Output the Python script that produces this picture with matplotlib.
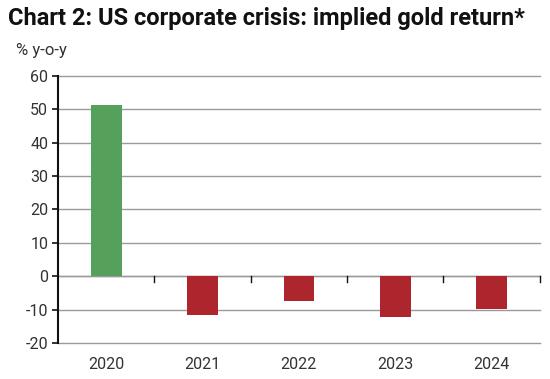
import matplotlib
matplotlib.use("Agg")
import matplotlib.pyplot as plt
import numpy as np

categories = ["2020", "2021", "2022", "2023", "2024"]
values = [51.2, -11.5, -7.5, -12.3, -9.8]
colors = ["#55a05a", "#ad262d", "#ad262d", "#ad262d", "#ad262d"]
yticks = [-20, -10, 0, 10, 20, 30, 40, 50, 60]

plt.rcParams['font.family'] = ['Roboto', 'DejaVu Sans']

fig = plt.figure(figsize=(5.5, 3.79), dpi=100)
ax = fig.add_axes([0.1055, 0.095, 0.876, 0.7045])

x = np.arange(len(categories))
ax.bar(x, values, width=0.32, color=colors, zorder=3)

ax.set_xlim(-0.5, len(categories) - 0.5)
ax.set_ylim(-20, 60)
ax.set_yticks(yticks)
ax.set_yticklabels([str(v) for v in yticks], fontsize=11.5, color="#333333")
for v in yticks:
    ax.axhline(v, color="#9a9a9a", lw=1.0, zorder=1, clip_on=False)

ax.set_xticks(x)
ax.set_xticklabels(categories, fontsize=11.5, color="#333333")
ax.tick_params(axis='x', length=0, pad=10)
ax.tick_params(axis='y', length=4, width=1.2, direction='out', color="#111111", pad=3)

# separator ticks on zero line
for b in np.arange(0.5, len(categories), 1.0):
    ax.plot([b, b], [0, -1.6], color="#111111", lw=1.0, zorder=4, clip_on=False)
ax.axhline(0, color="#9a9a9a", lw=1.0, zorder=2)

for s in ["top", "right", "bottom"]:
    ax.spines[s].set_visible(False)
ax.spines["left"].set_color("#111111")
ax.spines["left"].set_linewidth(1.5)

fig.text(0.014, 0.950, "Chart 2: US corporate crisis: implied gold return*",
         fontsize=17, fontweight="bold",
         va="center", ha="left", color="#111111")
fig.text(0.03, 0.868, "% y-o-y", fontsize=12, va="center", ha="left", color="#333333")

fig.savefig("out.png", dpi=100)
